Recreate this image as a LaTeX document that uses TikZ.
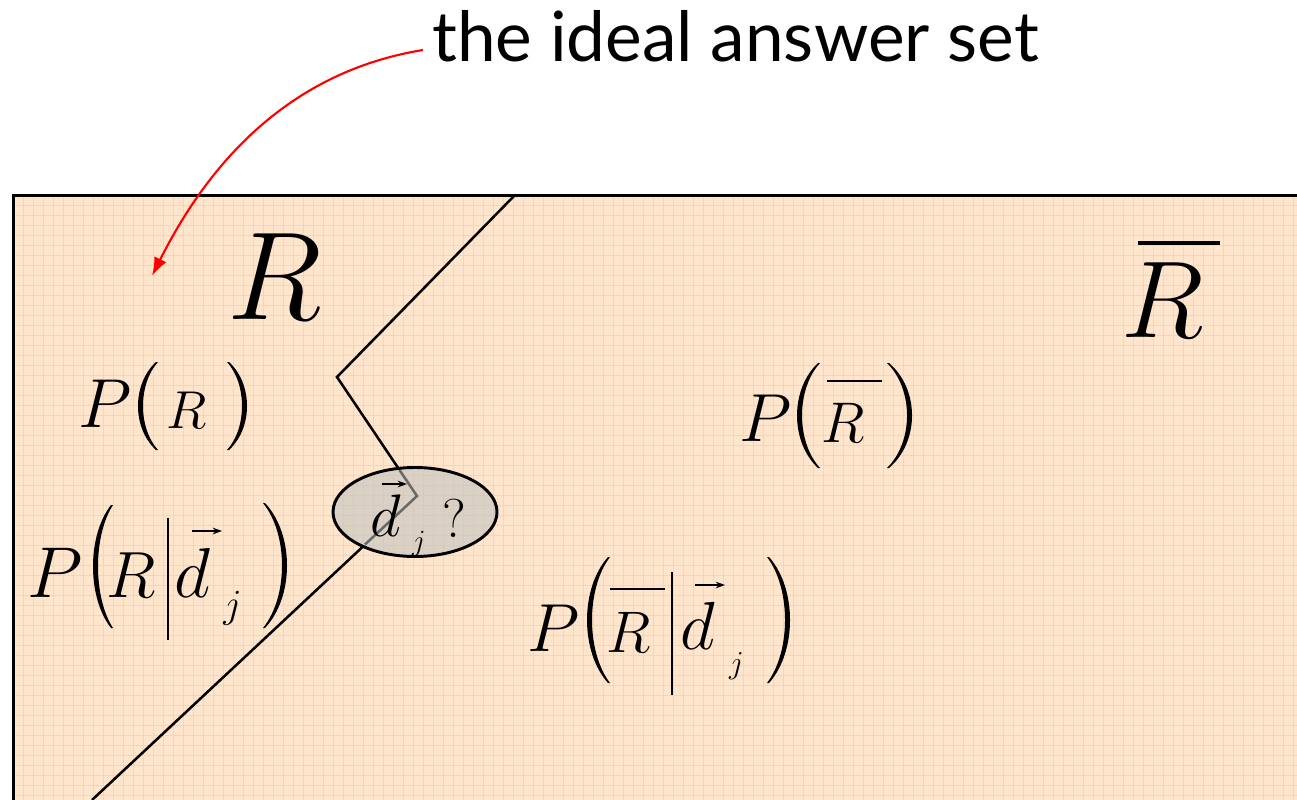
\RequirePackage{fix-cm}
\documentclass[tikz,border=0pt]{standalone}
\usepackage[no-math]{fontspec}
\newfontfamily\labelfont{Lato}
\usetikzlibrary{arrows.meta,shapes.geometric}
\definecolor{paper}{RGB}{255,229,204}
\definecolor{gridc}{RGB}{255,210,168}
\definecolor{ovlfill}{RGB}{219,208,196}
\definecolor{gridin}{RGB}{222,200,180}
\definecolor{linein}{RGB}{105,105,105}
\newcommand\drawlpar[4]{%
  \pgfmathsetmacro\ha{#3+0.25*(#4-#3)}%
  \pgfmathsetmacro\hb{#4-0.25*(#4-#3)}%
  \pgfmathsetmacro\co{(#1-0.25*(#2-2))/0.75}%
  \pgfmathsetmacro\ci{(#1+5-0.25*#2)/0.75}%
  \fill (#2-2,#3) .. controls (\co,\ha) and (\co,\hb) .. (#2-2,#4) -- (#2,#4)
        .. controls (\ci,\hb) and (\ci,\ha) .. (#2,#3) -- cycle;}
\newcommand\drawrpar[4]{%
  \pgfmathsetmacro\ha{#3+0.25*(#4-#3)}%
  \pgfmathsetmacro\hb{#4-0.25*(#4-#3)}%
  \pgfmathsetmacro\co{(#2-0.25*(#1+2))/0.75}%
  \pgfmathsetmacro\ci{(#2-5-0.25*#1)/0.75}%
  \fill (#1+2,#3) .. controls (\co,\ha) and (\co,\hb) .. (#1+2,#4) -- (#1,#4)
        .. controls (\ci,\hb) and (\ci,\ha) .. (#1,#3) -- cycle;}
\newcommand\msz[1]{\fontsize{#1pt}{#1pt}\selectfont}
\begin{document}
\begin{tikzpicture}[x=0.75pt,y=-0.75pt,
  glyph/.style={inner sep=0pt, outer sep=0pt, anchor=center},
  vecarr/.style={line width=1.1pt, -{Stealth[length=7pt,width=5pt]}},
  mybar/.style={line width=2pt},
  condbar/.style={line width=2.2pt}]
\useasboundingbox (0,0) rectangle (1297,800);
% background panel with grid
\fill[paper] (13.5,195.5) rectangle (1297,800);
\foreach \x in {23.5,33.5,...,1293.5} \draw[gridc, line width=0.5pt] (\x,196) -- (\x,800);
\foreach \y in {205.5,215.5,...,795.5} \draw[gridc, line width=0.5pt] (14,\y) -- (1297,\y);
\draw[line width=2.4pt] (13.5,800) -- (13.5,195.5) -- (1297,195.5);
\draw[line width=1.9pt] (514,196) -- (337,377) -- (417,496) -- (92,800);

% ellipse
\node[ellipse, fill=ovlfill, minimum width=123pt, minimum height=66.75pt, inner sep=0pt] (ellfill) at (415,512) {};
\foreach \x in {343.5,353.5,...,493.5} {
  \pgfmathsetmacro\hh{44.5*sqrt(max(0,1-((\x-415)/82)^2))}
  \draw[gridin, line width=0.5pt] (\x,512-\hh) -- (\x,512+\hh);}
\foreach \y in {475.5,485.5,...,545.5} {
  \pgfmathsetmacro\ww{82*sqrt(max(0,1-((\y-512)/44.5)^2))}
  \draw[gridin, line width=0.5pt] (415-\ww,\y) -- (415+\ww,\y);}
\draw[linein, line width=1.9pt] (399.5,470) -- (417,496) -- (365,544.5);
\node[draw, ellipse, line width=2.2pt, minimum width=123pt, minimum height=66.75pt, inner sep=0pt] (ell) at (415,512) {};
\node[glyph] (ed) at (385.5,516) {\msz{45}$d$};
\draw[vecarr] (382,484) -- (407,484);
\node[glyph] (ej) at (419,543.5) {\msz{22}$j$};
\node[glyph] (eq) at (454,519) {\msz{41}$?$};

% label and arrow
\node[anchor=south west, inner sep=0pt, font={\labelfont\fontsize{52pt}{52pt}\selectfont}] (lbl) at (432,62) {the ideal answer set};
\coordinate (tip) at (152,276);
\draw[red, line width=1.6pt, -{Latex[length=14pt,width=10pt]}]
  ([shift={(-9,-12)}]lbl.south west) .. controls (300,70) and (215,150) .. (tip);

% big R and R bar
\node[glyph] (bigR) at (274.5,277) {\msz{94}$R$};
\node[glyph] (bigRb) at (1163,300) {\msz{82}$R$};
\draw[line width=2.6pt] (1138,243) -- (1220,243);

% P(R)
\node[glyph] (aP) at (105,404) {\msz{52}$P$};
\drawlpar{138}{158}{362}{450}
\node[glyph] (aR) at (187,410) {\msz{40}$R$};
\drawrpar{227}{247}{362}{450}

% P(Rbar)
\node[glyph] (bP) at (766,418.5) {\msz{51}$P$};
\drawlpar{797}{820}{363}{468}
\node[glyph] (bR) at (843,422.5) {\msz{43}$R$};
\draw[mybar] (827,381) -- (882,381);
\drawrpar{887}{912}{363}{468}

% P(R | d_j)
\node[glyph] (cP) at (55,573) {\msz{54}$P$};
\drawlpar{93}{113}{505}{628}
\node[glyph] (cR) at (131.5,575.5) {\msz{49}$R$};
\draw[condbar] (168,518) -- (168,640);
\node[glyph] (cd) at (192.5,573) {\msz{53}$d$};
\draw[vecarr] (192,531) -- (222,531);
\node[glyph] (cj) at (232.5,608.5) {\msz{30}$j$};
\drawrpar{263}{287}{503}{628}

% P(Rbar | d_j)
\node[glyph] (dP) at (553.5,628.5) {\msz{51}$P$};
\drawlpar{587}{610}{557}{683}
\node[glyph] (dR) at (628.5,632.5) {\msz{44}$R$};
\draw[mybar] (610,589) -- (665,589);
\draw[condbar] (672,572) -- (672,695);
\node[glyph] (dd) at (697.5,626) {\msz{51}$d$};
\draw[vecarr] (695,585) -- (725,585);
\node[glyph] (dj) at (736.5,666) {\msz{24}$j$};
\drawrpar{767}{790}{557}{683}
\end{tikzpicture}
\end{document}
